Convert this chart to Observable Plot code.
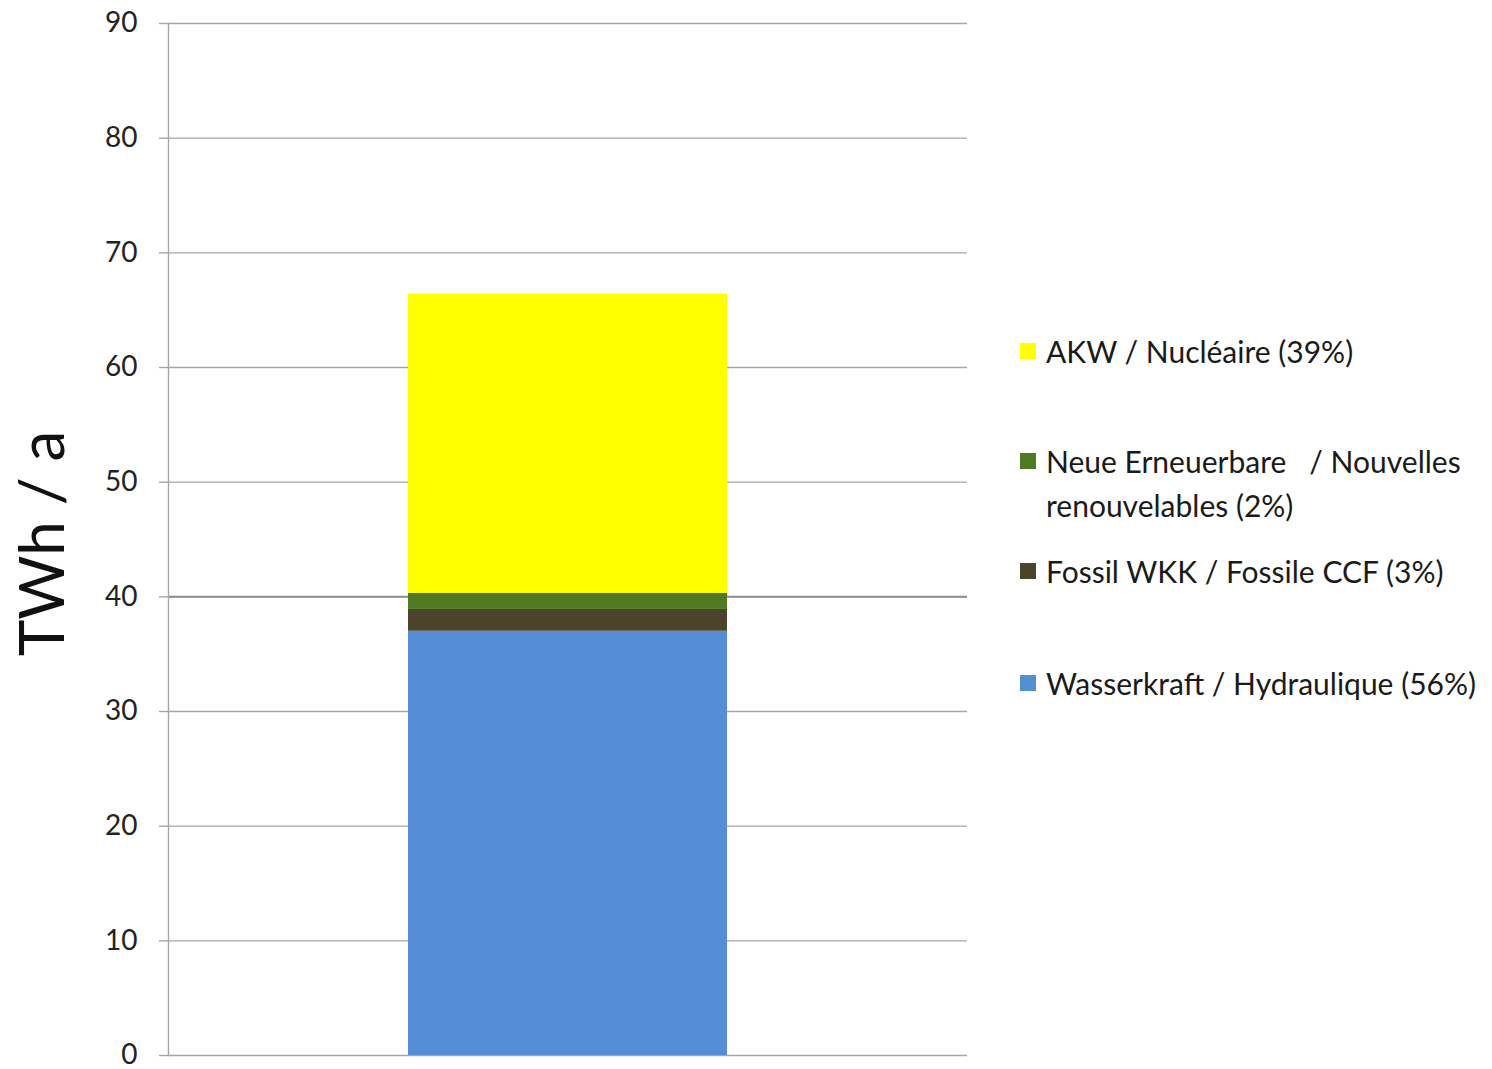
<!DOCTYPE html>
<html>
<head>
<meta charset="utf-8">
<script src="https://cdn.jsdelivr.net/npm/d3@7"></script>
<script src="https://cdn.jsdelivr.net/npm/@observablehq/plot@0.6"></script>
<style>
  html, body { margin: 0; padding: 0; background: #fff; }
  #wrap { position: relative; width: 1492px; height: 1069px; font-family: Lato, "Open Sans", sans-serif; }
  #chart { position: absolute; left: 0; top: 0; }
  .legend-item { position: absolute; left: 1020px; display: flex; align-items: flex-start; font-size: 30px; line-height: 44px; color: #1a1a1a; white-space: pre; }
  .legend-item .sw { width: 16px; height: 16px; margin-top: 14px; margin-right: 10px; flex: none; }
</style>
</head>
<body>
<div id="wrap"><div id="chart"></div></div>
<script>
// Swiss electricity production by source (TWh per year), stacked bottom to top
const sources = ["Wasserkraft", "Fossil WKK", "Neue Erneuerbare", "AKW"];
const production = [37.0, 1.9, 1.4, 26.1];
const colors = ["#558ed5", "#4a442b", "#4f7a21", "#ffff00"];
const legendLabels = [
  "Wasserkraft / Hydraulique (56%)",
  "Fossil WKK / Fossile CCF (3%)",
  "Neue Erneuerbare   / Nouvelles\nrenouvelables (2%)",
  "AKW / Nucléaire (39%)"
];
const yTicks = [0, 10, 20, 30, 40, 50, 60, 70, 80, 90];
const yLabel = "TWh / a";

const rows = sources.map((s, i) => ({group: "2010", source: s, value: production[i]}));

const chart = Plot.plot({
  width: 990,
  height: 1069,
  marginLeft: 168,
  marginRight: 23,
  marginTop: 23,
  marginBottom: 14,
  style: {fontFamily: "Lato, 'Open Sans', sans-serif", background: "#fff"},
  x: {domain: ["2010"], padding: 0.4286, axis: null},
  y: {domain: [0, 90], ticks: yTicks},
  color: {domain: sources, range: colors},
  marks: [
    Plot.gridY(yTicks, {stroke: "#a6a6a6", strokeOpacity: 1, strokeWidth: 1.4}),
    Plot.ruleY([40], {stroke: "#8c8c8c", strokeWidth: 2}),
    Plot.barY(rows, {x: "group", y: "value", fill: "source"}),
    Plot.frame({anchor: "left", stroke: "#a6a6a6", strokeWidth: 1.4}),
    Plot.axisY(yTicks, {tickSize: 9, tickPadding: 22, stroke: "#a6a6a6", strokeWidth: 1.4, fontSize: 28, fill: "#222", label: null}),
    Plot.text([yLabel], {frameAnchor: "left", textAnchor: "middle", rotate: -90, dx: -124, dy: 4, fontSize: 62, fill: "#111"})
  ]
});
document.getElementById("chart").appendChild(chart);

// Legend to the right of the plot, top entry first
const legendTops = [329, 439, 549, 661];
const wrap = document.getElementById("wrap");
[3, 2, 1, 0].forEach((idx, k) => {
  const item = document.createElement("div");
  item.className = "legend-item";
  item.style.top = legendTops[k] + "px";
  const sw = document.createElement("span");
  sw.className = "sw";
  sw.style.background = colors[idx];
  const txt = document.createElement("span");
  txt.textContent = legendLabels[idx];
  item.appendChild(sw);
  item.appendChild(txt);
  wrap.appendChild(item);
});
</script>
</body>
</html>
